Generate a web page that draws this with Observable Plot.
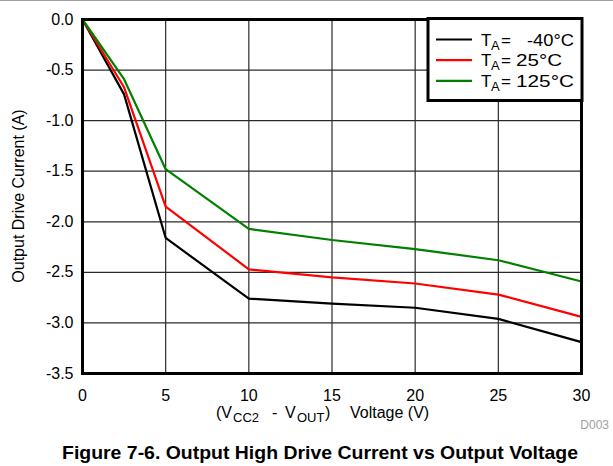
<!DOCTYPE html>
<html>
<head>
<meta charset="utf-8">
<script src="https://cdn.jsdelivr.net/npm/d3@7"></script>
<script src="https://cdn.jsdelivr.net/npm/@observablehq/plot@0.6"></script>
<style>
  html, body { margin: 0; padding: 0; background: #fff; }
</style>
</head>
<body>
<div id="chart"></div>
<script>
const voltage = [0, 2.5, 5, 10, 15, 20, 25, 30];
const seriesNames = ["-40°C", "25°C", "125°C"];
const seriesColors = ["#000000", "#ff0000", "#008000"];
const currentM40 = [0, -0.74, -2.16, -2.76, -2.81, -2.85, -2.96, -3.19];
const current25 = [0, -0.67, -1.85, -2.47, -2.55, -2.61, -2.72, -2.94];
const current125 = [0, -0.59, -1.48, -2.07, -2.18, -2.27, -2.38, -2.59];
const xTicks = [0, 5, 10, 15, 20, 25, 30];
const yTicks = [0, -0.5, -1, -1.5, -2, -2.5, -3, -3.5];

const seriesValues = [currentM40, current25, current125];
const data = [];
seriesValues.forEach((vals, i) => {
  vals.forEach((v, j) => data.push({ series: seriesNames[i], v: voltage[j], a: v }));
});

const yFmt = d => d3.format(".1f")(d).replace("−", "-");

const plot = Plot.plot({
  width: 613,
  height: 466,
  marginLeft: 82,
  marginRight: 32,
  marginTop: 19,
  marginBottom: 93,
  style: { fontFamily: "'Liberation Sans', Arial, sans-serif", fontSize: "16px", color: "#000", background: "#fff" },
  x: { domain: [0, 30], label: null },
  y: { domain: [-3.5, 0], label: null },
  marks: [
    Plot.gridX(xTicks, { stroke: "#2a2a2a", strokeOpacity: 1, strokeWidth: 1.2 }),
    Plot.gridY(yTicks, { stroke: "#2a2a2a", strokeOpacity: 1, strokeWidth: 1.2 }),
    Plot.line(data, { x: "v", y: "a", z: "series", stroke: "series", strokeWidth: 2.2 }),
    Plot.frame({ stroke: "#000", strokeWidth: 3 }),
    Plot.axisX({ ticks: xTicks, tickSize: 0, tickPadding: 16, fontSize: 16, label: null }),
    Plot.axisY({ ticks: yTicks, tickSize: 0, tickPadding: 9, tickFormat: yFmt, fontSize: 16, label: null })
  ],
  color: { domain: seriesNames, range: seriesColors }
});
document.getElementById("chart").appendChild(plot);

const svg = d3.select(plot);
const ys = plot.scale("y");
const font = "'Liberation Sans', Arial, sans-serif";

// top border line of the page
svg.append("rect").attr("x", 0).attr("y", 0).attr("width", 613).attr("height", 1).attr("fill", "#a0a0a0");

// y axis label
svg.append("text")
  .attr("transform", `translate(24,${(ys.apply(0) + ys.apply(-3.5)) / 2}) rotate(-90)`)
  .attr("text-anchor", "middle")
  .attr("font-family", font).attr("font-size", 16).attr("fill", "#000")
  .text("Output Drive Current (A)");

// x axis label with subscripts
const xl = svg.append("text")
  .attr("text-anchor", "start")
  .attr("font-family", font).attr("font-size", 16).attr("fill", "#000");
xl.append("tspan").attr("x", 216).attr("y", 418).text("(V");
xl.append("tspan").attr("x", 233).attr("y", 422).attr("font-size", 13).text("CC2");
xl.append("tspan").attr("x", 272).attr("y", 418).text("-");
xl.append("tspan").attr("x", 285).attr("y", 418).text("V");
xl.append("tspan").attr("x", 297).attr("y", 422).attr("font-size", 13).text("OUT");
xl.append("tspan").attr("x", 325).attr("y", 418).text(")");
xl.append("tspan").attr("x", 350).attr("y", 418).text("Voltage (V)");

// D003
svg.append("text")
  .attr("x", 609).attr("y", 429)
  .attr("text-anchor", "end")
  .attr("font-family", font).attr("font-size", 12).attr("fill", "#a0a0a0")
  .text("D003");

// figure title
svg.append("text")
  .attr("x", 62).attr("y", 459)
  .attr("text-anchor", "start")
  .attr("font-family", font).attr("font-weight", "bold").attr("font-size", 18.5).attr("fill", "#000")
  .attr("textLength", 516).attr("lengthAdjust", "spacingAndGlyphs")
  .text("Figure 7-6. Output High Drive Current vs Output Voltage");

// legend
const legendValueX = [527, 516, 516];
const legendValueW = [47, 46, 58];
const lg = svg.append("g");
lg.append("rect")
  .attr("x", 428).attr("y", 18.5).attr("width", 154).attr("height", 82)
  .attr("fill", "#fff").attr("stroke", "#000").attr("stroke-width", 3);
seriesNames.forEach((name, i) => {
  const yy = 39.5 + i * 20.7;
  lg.append("line")
    .attr("x1", 436).attr("x2", 472).attr("y1", yy).attr("y2", yy)
    .attr("stroke", seriesColors[i]).attr("stroke-width", 2.2);
  const t = lg.append("text")
    .attr("text-anchor", "start")
    .attr("font-family", font).attr("font-size", 17).attr("fill", "#000");
  t.append("tspan").attr("x", 481).attr("y", yy + 6).text("T");
  t.append("tspan").attr("x", 491).attr("y", yy + 10).attr("font-size", 13).text("A");
  t.append("tspan").attr("x", 501).attr("y", yy + 6).text("=");
  lg.append("text")
    .attr("text-anchor", "start")
    .attr("font-family", font).attr("font-size", 17).attr("fill", "#000")
    .attr("x", legendValueX[i]).attr("y", yy + 6)
    .attr("textLength", legendValueW[i]).attr("lengthAdjust", "spacingAndGlyphs")
    .text(name);
});
</script>
</body>
</html>
